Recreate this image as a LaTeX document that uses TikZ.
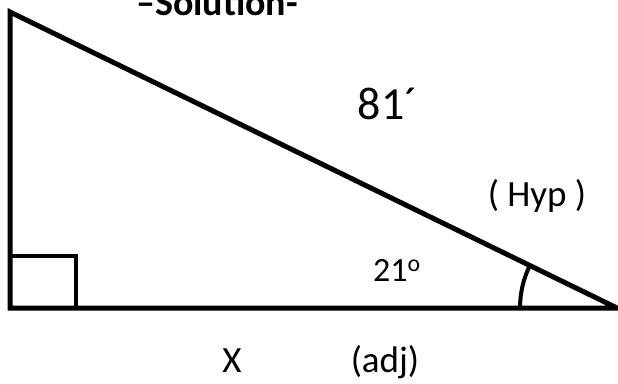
\documentclass[tikz,border=0pt]{standalone}
\usepackage{fontspec}
\setmainfont{Carlito}
\begin{document}
\begin{tikzpicture}[x=1pt, y=1pt, line join=miter,
  side/.style={line width=5pt},
  lbl/.style={font=\fontsize{37}{44}\selectfont, anchor=base, inner sep=0pt}]
\useasboundingbox (0,0) rectangle (618,383);

% Triangle corners
\coordinate (top) at (10,371);
\coordinate (corner) at (10,75);
\coordinate (tip) at (617,75);
\draw[side] (top) -- (corner) -- (tip) -- cycle;

% right angle mark and angle arc
\draw[line width=4pt] (corner) rectangle ++(66,52);
\draw[line width=4pt] ([shift={(180:97)}]tip) arc (180:154:97);

% Labels
\node[lbl, font=\fontsize{38}{44}\selectfont\bfseries] (title) at (217,367) {–Solution-};
\node[lbl, font=\fontsize{46}{52}\selectfont] (hypval) at (388,263) {81´};
\node[lbl] (hyp) at (537,176) {( Hyp )};
\node[lbl, font=\fontsize{34}{40}\selectfont] (ang) at (397,102) {21\textsuperscript{o}};
\node[lbl] (adjval) at (232,11) {X};
\node[lbl] (adj) at (385,11) {(adj)};
\end{tikzpicture}
\end{document}
